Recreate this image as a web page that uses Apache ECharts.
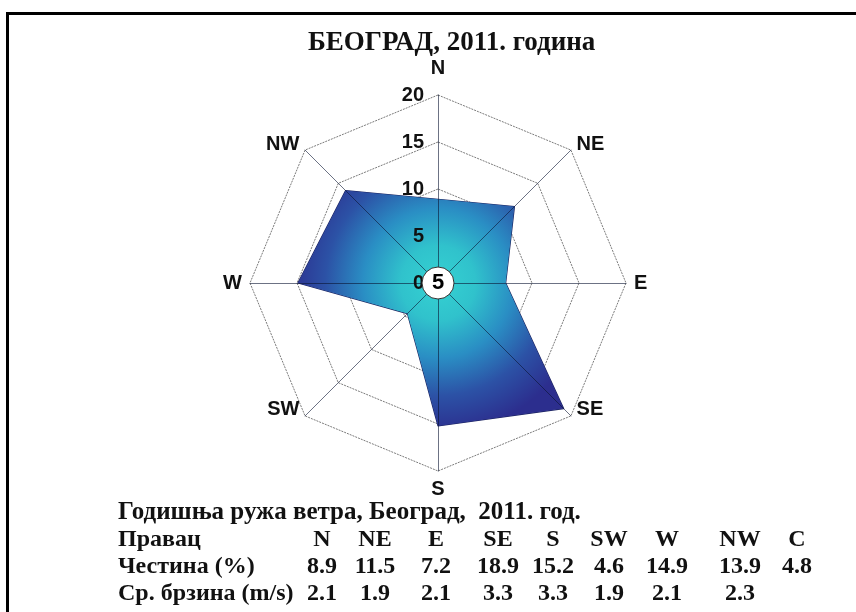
<!DOCTYPE html>
<html>
<head>
<meta charset="utf-8">
<script src="https://cdn.jsdelivr.net/npm/echarts@6/dist/echarts.min.js"></script>
<style>
  html, body { margin: 0; padding: 0; background: #fff; }
  #chart { width: 856px; height: 612px; }
</style>
</head>
<body>
<div id="chart"></div>
<script>
// wind directions, clockwise from north
const directions = ['N', 'NE', 'E', 'SE', 'S', 'SW', 'W', 'NW']
const frequency = [8.9, 11.5, 7.2, 18.9, 15.2, 4.6, 14.9, 13.9] // %
const speed = [2.1, 1.9, 2.1, 3.3, 3.3, 1.9, 2.1, 2.3] // m/s
const calm = 4.8 // C, %
const radialMax = 20

const center = [438, 283]
const radius = 188

// radar goes counter-clockwise, so reverse order after N
const order = [0, 7, 6, 5, 4, 3, 2, 1]

const chart = echarts.init(document.getElementById('chart'))

const sans = 'Liberation Sans, Arial'
const serif = 'Liberation Serif, Times New Roman'
const tableFont = 'bold 24px ' + serif

// table under the chart
const colX = [322, 375, 436, 498, 553, 609, 667, 740, 797]
const tableRows = [
  { label: 'Правац', y: 540, cells: directions.concat(['C']) },
  { label: 'Честина (%)', y: 567, cells: frequency.concat([calm]).map(v => v.toFixed(1)) },
  { label: 'Ср. брзина (m/s)', y: 594, cells: speed.map(v => v.toFixed(1)) }
]
const tableText = [{
  type: 'text', x: 118, y: 513,
  style: { text: 'Годишња ружа ветра, Београд,  2011. год.', font: 'bold 25px ' + serif, fill: '#111', textVerticalAlign: 'middle' }
}]
tableRows.forEach(row => {
  tableText.push({
    type: 'text', x: 118, y: row.y,
    style: { text: row.label, font: tableFont, fill: '#111', textVerticalAlign: 'middle' }
  })
  row.cells.forEach((c, i) => {
    tableText.push({
      type: 'text', x: colX[i], y: row.y,
      style: { text: c, font: tableFont, fill: '#111', textAlign: 'center', textVerticalAlign: 'middle' }
    })
  })
})

chart.setOption({
  animation: false,
  title: {
    text: 'БЕОГРАД, 2011. година',
    left: 303,
    top: 25,
    textStyle: { fontFamily: serif, fontWeight: 'bold', fontSize: 27, color: '#111' }
  },
  graphic: [
    {
      type: 'rect', silent: true,
      shape: { x: 7.5, y: 13.5, width: 900, height: 700 },
      style: { fill: 'none', stroke: '#000', lineWidth: 3 }
    }
  ].concat(tableText),
  radar: [
    {
      center: center,
      radius: radius,
      shape: 'polygon',
      splitNumber: 4,
      startAngle: 90,
      indicator: order.map(d => ({ name: directions[d], max: radialMax, min: 0 })),
      nameGap: 8,
      axisName: {
        fontFamily: sans, fontWeight: 'bold', fontSize: 20, color: '#111',
        formatter: name => {
          if (name === 'N') return '{up|N}'
          if (name === 'SE' || name === 'SW') return '{lo|' + name + '}'
          return name
        },
        rich: {
          up: { fontFamily: sans, fontWeight: 'bold', fontSize: 20, color: '#111', padding: [0, 0, 9, 0] },
          lo: { fontFamily: sans, fontWeight: 'bold', fontSize: 20, color: '#111', padding: [0, 0, 24, 0] }
        }
      },
      axisLabel: { show: false },
      splitArea: { show: false },
      splitLine: { lineStyle: { color: '#7a7a7a', width: 1, type: [2, 1] } },
      axisLine: { show: false }
    },
    {
      // spokes and radial labels drawn again above the rose
      center: center,
      radius: radius,
      shape: 'polygon',
      splitNumber: 4,
      startAngle: 90,
      z: 5,
      indicator: order.map((d, k) => ({
        name: '', max: radialMax, min: 0,
        axisLabel: { show: k === 0 }
      })),
      axisName: { show: false },
      splitArea: { show: false },
      splitLine: { show: false },
      axisLabel: {
        show: false,
        fontFamily: sans, fontWeight: 'bold', fontSize: 20, color: '#111',
        margin: 14
      },
      axisLine: { lineStyle: { color: 'rgba(10,20,50,0.6)', width: 1 } }
    }
  ],
  series: [
    {
      type: 'radar',
      radarIndex: 0,
      symbol: 'none',
      silent: true,
      lineStyle: { color: '#1c2460', width: 1.2 },
      areaStyle: {
        opacity: 1,
        color: {
          type: 'radial', global: true, x: center[0], y: center[1], r: 150,
          colorStops: [
            { offset: 0, color: '#35d2d2' },
            { offset: 0.25, color: '#30c2cc' },
            { offset: 0.5, color: '#2a8ec4' },
            { offset: 0.75, color: '#2c52a6' },
            { offset: 1, color: '#2c2e8e' }
          ]
        }
      },
      data: [{ value: order.map(d => frequency[d]) }]
    },
    {
      type: 'pie',
      center: center,
      radius: [0, 16],
      silent: true,
      z: 10,
      itemStyle: { color: '#fff', borderColor: '#333', borderWidth: 1 },
      label: {
        position: 'center',
        formatter: p => Math.round(p.value),
        fontFamily: sans, fontWeight: 'bold', fontSize: 22, color: '#000'
      },
      labelLine: { show: false },
      data: [{ name: 'C', value: calm }]
    }
  ]
})
</script>
</body>
</html>
